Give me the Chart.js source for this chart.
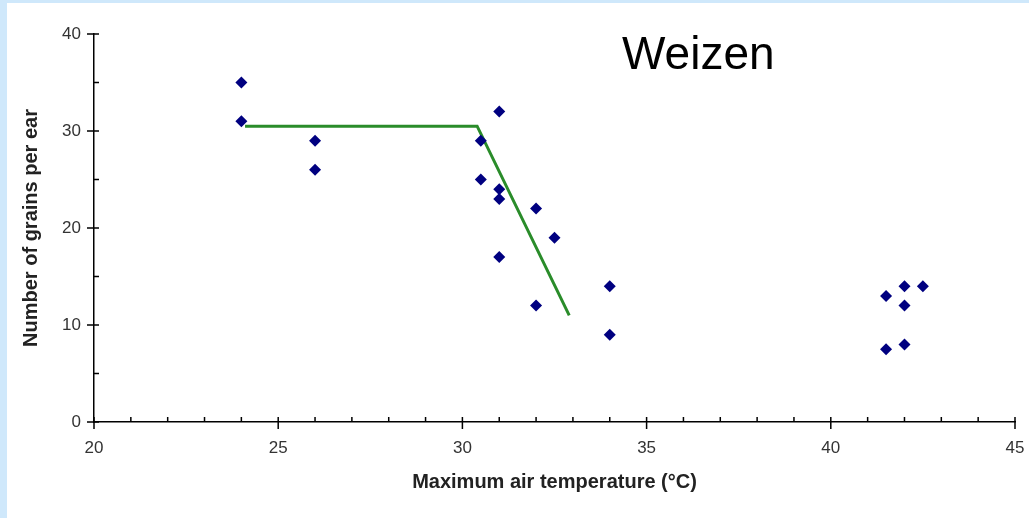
<!DOCTYPE html>
<html>
<head>
<meta charset="utf-8">
<script src="https://cdn.jsdelivr.net/npm/chart.js@4"></script>
<style>
  html, body { margin: 0; padding: 0; background: #cfe8fb; }
  #wrap { position: absolute; left: 7px; top: 3px; width: 1022px; height: 515px; background: #fff; }
</style>
</head>
<body>
<div id="wrap"><canvas id="chart" width="1022" height="515"></canvas></div>
<script>
// measured grains per ear vs. max air temperature
const tempX = [24, 24, 26, 26, 30.5, 30.5, 31, 31, 31, 31, 32, 32, 32.5, 34, 34, 41.5, 41.5, 42, 42, 42, 42.5];
const grainsY = [35, 31, 29, 26, 29, 25, 32, 24, 23, 17, 22, 12, 19, 14, 9, 13, 7.5, 14, 12, 8, 14];

// fitted broken-line model
const fitX = [24.1, 30.4, 32.9];
const fitY = [30.5, 30.5, 11];

const xTicks = [20, 25, 30, 35, 40, 45];
const yTicks = [0, 10, 20, 30, 40];

const font = 'Liberation Sans, Arial, sans-serif';

// tick marks: majors cross the axis, minors point inward
const axisTicks = {
  id: 'axisTicks',
  afterDraw(chart) {
    const { ctx, scales: { x, y } } = chart;
    ctx.save();
    ctx.strokeStyle = '#000';
    ctx.lineWidth = 1.5;
    ctx.beginPath();
    for (let v = 20; v <= 45; v++) {
      const px = x.getPixelForValue(v);
      const major = v % 5 === 0;
      ctx.moveTo(px, y.bottom - 5);
      ctx.lineTo(px, y.bottom + (major ? 7 : 0));
    }
    for (let v = 0; v <= 40; v += 5) {
      const py = y.getPixelForValue(v);
      const major = v % 10 === 0;
      ctx.moveTo(x.left - (major ? 7 : 0), py);
      ctx.lineTo(x.left + 5, py);
    }
    ctx.stroke();
    ctx.restore();
  }
};

const bigTitle = {
  id: 'bigTitle',
  afterDraw(chart) {
    const { ctx } = chart;
    ctx.save();
    ctx.fillStyle = '#000';
    ctx.font = '46px ' + font;
    ctx.textBaseline = 'alphabetic';
    ctx.fillText('Weizen', 615, 66);
    ctx.restore();
  }
};

new Chart(document.getElementById('chart'), {
  type: 'scatter',
  data: {
    datasets: [
      {
        data: tempX.map((t, i) => ({ x: t, y: grainsY[i] })),
        pointStyle: 'rectRot',
        radius: 6,
        backgroundColor: '#000080',
        borderColor: '#000080',
        borderWidth: 0
      },
      {
        data: fitX.map((t, i) => ({ x: t, y: fitY[i] })),
        showLine: true,
        pointRadius: 0,
        borderColor: '#2a8c2a',
        borderWidth: 3,
        tension: 0
      }
    ]
  },
  options: {
    responsive: false,
    animation: false,
    layout: { padding: { top: 31, right: 14, left: 8, bottom: 20 } },
    plugins: { legend: { display: false }, tooltip: { enabled: false } },
    scales: {
      x: {
        type: 'linear',
        min: 20, max: 45,
        afterBuildTicks: s => { s.ticks = xTicks.map(v => ({ value: v })); },
        afterFit: s => { s.height = 76; s.paddingLeft = 0; s.paddingRight = 0; },
        grid: { drawOnChartArea: false, drawTicks: false },
        border: { color: '#000', width: 1.5 },
        ticks: { padding: 16, color: '#333', font: { family: font, size: 17 }, maxRotation: 0 },
        title: {
          display: true,
          text: 'Maximum air temperature (°C)',
          color: '#222',
          font: { family: font, size: 20, weight: 'bold' },
          padding: { top: 8 }
        }
      },
      y: {
        type: 'linear',
        min: 0, max: 40,
        afterBuildTicks: s => { s.ticks = yTicks.map(v => ({ value: v })); },
        afterFit: s => { s.width = 79; s.paddingTop = 0; s.paddingBottom = 0; },
        grid: { drawOnChartArea: false, drawTicks: false },
        border: { color: '#000', width: 1.5 },
        ticks: { padding: 13, color: '#333', font: { family: font, size: 17 } },
        title: {
          display: true,
          text: 'Number of grains per ear',
          color: '#222',
          font: { family: font, size: 20, weight: 'bold' },
          padding: { bottom: 0 }
        }
      }
    }
  },
  plugins: [axisTicks, bigTitle]
});
</script>
</body>
</html>
